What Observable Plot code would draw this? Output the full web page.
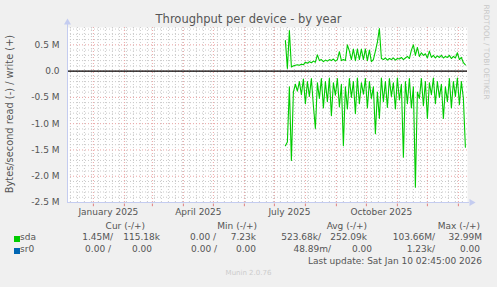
<!DOCTYPE html>
<html><head><meta charset="utf-8">
<script src="https://cdn.jsdelivr.net/npm/d3@7"></script>
<script src="https://cdn.jsdelivr.net/npm/@observablehq/plot@0.6"></script>
<style>
html,body{margin:0;padding:0;background:#f0f0f0;}
#wrap{position:relative;width:497px;height:287px;overflow:hidden;font-family:"DejaVu Sans",sans-serif;color:#555;}
#wrap svg{position:absolute;left:0;top:0;}
.t{position:absolute;white-space:nowrap;line-height:1;font-size:9px;}
.r{text-align:right;}
</style></head><body><div id="wrap"></div>
<script>
// ---- data (values in MB/s) ----
const title = "Throughput per device - by year";
const yLabel = "Bytes/second read (-) / write (+)";
const devices = ["sda", "sr0"];
const deviceColors = ["#00cc00", "#0066b3"];
const firstSample = "2025-07-12";   // samples every 2 days
const sampleStepDays = 2;
const sdaWriteM = [0.58,0.05,0.77,0.08,0.10,0.11,0.12,0.11,0.13,0.12,
  0.17,0.15,0.18,0.16,0.19,0.17,0.31,0.20,0.22,0.18,
  0.21,0.19,0.22,0.20,0.23,0.19,0.22,0.37,0.20,0.22,
  0.20,0.50,0.38,0.22,0.42,0.20,0.42,0.22,0.42,0.22,
  0.42,0.20,0.40,0.18,0.22,0.38,0.55,0.81,0.24,0.22,
  0.25,0.21,0.24,0.22,0.25,0.21,0.24,0.23,0.26,0.22,
  0.25,0.28,0.24,0.40,0.50,0.30,0.45,0.28,0.35,0.30,
  0.33,0.25,0.38,0.26,0.30,0.25,0.29,0.26,0.30,0.25,
  0.28,0.26,0.30,0.24,0.28,0.25,0.35,0.22,0.26,0.16,0.12];
const sdaReadM = [1.42,1.35,0.30,1.70,0.40,0.25,0.38,0.20,0.45,0.15,
  0.62,0.20,0.48,0.14,0.66,1.09,0.22,0.52,0.14,0.70,
  0.20,0.58,0.13,0.85,0.22,0.46,0.14,0.68,0.25,1.42,
  0.30,0.72,0.14,0.50,0.20,0.81,0.13,0.62,0.22,0.44,
  0.14,0.70,0.20,0.52,0.30,1.19,0.40,0.90,0.13,0.58,
  0.20,0.69,0.14,0.48,0.22,0.72,0.13,0.55,0.25,1.64,
  0.20,0.62,0.14,0.70,0.30,2.21,0.40,0.52,0.14,0.66,
  0.20,0.90,0.22,0.45,0.13,0.62,0.20,0.50,0.25,0.90,
  0.30,0.58,0.14,0.70,0.20,0.48,0.13,0.64,0.20,0.52,1.45];
const yTicks = [-2.5,-2.0,-1.5,-1.0,-0.5,0.0,0.5];
const xLabelDates = ["2025-01-16","2025-04-16","2025-07-16","2025-10-16"];
const legendHeaders = ["Cur (-/+)","Min (-/+)","Avg (-/+)","Max (-/+)"];
const legendSda = ["1.45M/","115.18k","0.00 /","7.23k","523.68k/","252.09k","103.66M/","32.99M"];
const legendSr0 = ["0.00 /","0.00","0.00 /","0.00","48.89m/","0.00","1.23k/","0.00"];
const lastUpdate = "Last update: Sat Jan 10 02:45:00 2026";
const endTime = "2026-01-10T02:45:00Z";
const spanDays = 400;

// ---- build ----
const DAY = 864e5;
const end = new Date(endTime);
const start = new Date(+end - spanDays*DAY);
const t0 = +new Date(firstSample + "T00:00:00Z");
const data = sdaWriteM.map((w,i)=>({date:new Date(t0 + i*sampleStepDays*DAY), write:w, read:-sdaReadM[i]}));
const yMinor = d3.range(-25, 9).map(k=>k/10).filter(v=>Math.abs(v*2-Math.round(v*2))>1e-9);
const months = d3.utcMonth.range(start, end);
const weeks = d3.utcMonday.range(start, end);
const axisCol = "#c4ccf0", minorCol = "#c9c9c9", majorCol = "#eaa3a3", dash = "1,2";
const yTop = 0.83, yBot = -2.5;

const chart = Plot.plot({
  width: 497, height: 287,
  marginLeft: 67, marginRight: 30, marginTop: 27, marginBottom: 85,
  x: {type:"utc", domain:[start, end]},
  y: {domain:[yBot, yTop]},
  style: {background:"transparent", fontFamily:"DejaVu Sans", fontSize:"9px", color:"#555"},
  marks: [
    Plot.frame({fill:"white", stroke:"none"}),
    Plot.ruleY(yMinor, {stroke:minorCol, strokeDasharray:dash}),
    Plot.ruleX(weeks, {stroke:minorCol, strokeDasharray:dash}),
    Plot.ruleY(yTicks, {stroke:majorCol, strokeDasharray:dash}),
    Plot.ruleX(months, {stroke:majorCol, strokeDasharray:dash}),
    Plot.ruleX(months, {y1:yBot-0.03, y2:yBot-0.08, stroke:"#e08080"}),
    Plot.ruleY([0], {stroke:"black", strokeWidth:1.3}),
    Plot.line(data, {x:"date", y:"write", stroke:deviceColors[0], strokeWidth:1.1}),
    Plot.line(data, {x:"date", y:"read", stroke:deviceColors[0], strokeWidth:1.1}),
    Plot.ruleX([start], {y1:yBot, y2:yTop+0.07, stroke:axisCol}),
    Plot.ruleY([yBot], {x1:start, x2:new Date(+end+2*DAY), stroke:axisCol}),
    Plot.dot([0], {frameAnchor:"top-left", dy:-5, symbol:"triangle", r:2.6, fill:axisCol, stroke:"none"}),
    Plot.dot([0], {frameAnchor:"bottom-right", dx:4, symbol:"triangle", rotate:90, r:2.6, fill:axisCol, stroke:"none"}),
    Plot.axisY(yTicks, {tickSize:0, tickPadding:8, fontSize:9, color:"#555",
      tickFormat: v => v===0 ? "0.0" : v.toFixed(1)+" M"}),
    Plot.axisX(xLabelDates.map(d=>new Date(d+"T00:00:00Z")), {tickSize:0, tickPadding:6, fontSize:9, color:"#555",
      tickFormat: d3.utcFormat("%B %Y")})
  ]
});
const wrap = document.getElementById("wrap");
wrap.appendChild(chart);

function txt(s, opts){
  const d = document.createElement("div");
  d.className = "t" + (opts.right!==undefined ? " r" : "");
  d.textContent = s;
  const fs = opts.fs || 9;
  d.style.fontSize = fs+"px";
  d.style.top = (opts.base - 0.846*fs) + "px";
  if (opts.right!==undefined) d.style.right = (497 - opts.right) + "px";
  else d.style.left = opts.left + "px";
  if (opts.color) d.style.color = opts.color;
  wrap.appendChild(d);
  return d;
}
// title
const tt = txt(title, {left:0, base:24, fs:11.5, color:"#555"});
tt.style.width = "497px"; tt.style.textAlign = "center";
// y label
const yl = document.createElement("div");
yl.className = "t"; yl.textContent = yLabel;
Object.assign(yl.style, {fontSize:"9.8px", left:"10px", top:"114px", transform:"translate(-50%,-50%) rotate(-90deg)", color:"#555"});
wrap.appendChild(yl);
// rrdtool watermark
const wm = document.createElement("div");
wm.className = "t"; wm.textContent = "RRDTOOL / TOBI OETIKER";
Object.assign(wm.style, {fontSize:"7.4px", left:"486px", top:"52px", transform:"translate(-50%,-50%) rotate(90deg)", color:"#c8c8c8"});
wrap.appendChild(wm);
// legend
const headerRights = [145, 257, 367, 480];
legendHeaders.forEach((h,i)=>txt(h, {right:headerRights[i], base:230}));
const sdaRights = [113,160,216,256,321,367,435,482];
const sr0Rights = [111,152,217,256,331,372,435,480];
const rows = [[legendSda, sdaRights, 241], [legendSr0, sr0Rights, 253]];
rows.forEach(([vals, rights, base], r)=>{
  const sw = document.createElement("div");
  Object.assign(sw.style, {position:"absolute", left:"14px", top:(base-5.5)+"px", width:"6px", height:"6px", background:deviceColors[r]});
  wrap.appendChild(sw);
  txt(devices[r], {left:20, base});
  vals.forEach((v,i)=>txt(v, {right:rights[i], base}));
});
txt(lastUpdate, {right:482, base:265});
const mu = txt("Munin 2.0.76", {left:0, base:276, fs:7, color:"#cccccc"});
mu.style.width = "497px"; mu.style.textAlign = "center";
</script></body></html>
